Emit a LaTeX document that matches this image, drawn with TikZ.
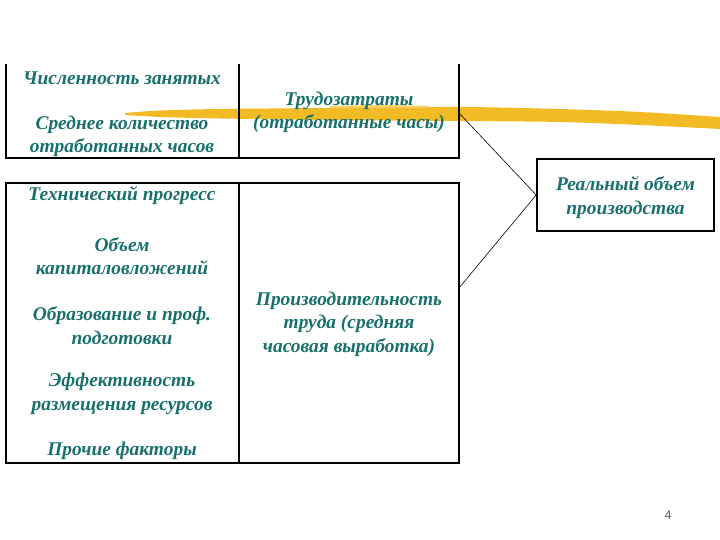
\documentclass[tikz,border=0pt]{standalone}
\usepackage{fontspec}
\setmainfont{Liberation Serif}
\setsansfont{Liberation Sans}
\definecolor{txtteal}{RGB}{24,112,108}
\definecolor{brush}{RGB}{242,186,36}
\definecolor{pagenum}{RGB}{90,90,90}
\begin{document}
\begin{tikzpicture}[x=1bp,y=-1bp,
  lbl/.style={text=txtteal,font=\fontsize{19.5}{23.5}\selectfont\bfseries\itshape,align=center,inner sep=0pt},
  frame/.style={draw=black,line width=1.6bp},
  conn/.style={draw=black,line width=0.6bp}]
\useasboundingbox (0,0) rectangle (720,540);
% brush stroke
\fill[brush] plot[smooth] coordinates {(125,113) (160,110.5) (220,109) (330,108) (460,107) (560,109) (640,112) (720,117)}
  -- plot[smooth] coordinates {(720,129) (640,125) (560,122) (460,121) (330,120) (220,118.5) (160,117) (125,115)} -- cycle;
\fill[brush!70!white] plot[smooth] coordinates {(330,106) (380,105) (430,106)} -- plot[smooth] coordinates {(430,108) (380,108) (330,108.5)} -- cycle;
% top box
\draw[frame] (6,64) -- (6,158) -- (459,158) -- (459,64);
\draw[frame] (239,64) -- (239,158);
% bottom box
\draw[frame] (6,183) rectangle (459,463);
\draw[frame] (239,183) -- (239,463);
% right box
\node[frame,minimum width=177bp,minimum height=72bp,inner sep=0pt] (real) at (625.5,195) {};
\node[lbl] (realt) at (625.5,197.5) {Реальный объем\\производства};
% connectors
\coordinate (tz) at (459,113);
\coordinate (pr) at (459,288);
\draw[conn] (tz) -- (real.west);
\draw[conn] (pr) -- (real.west);
% top left texts
\node[lbl] (n1) at (122,78) {Численность занятых};
\node[lbl] (n2) at (122,136.5) {Среднее количество\\отработанных часов};
\node[lbl] (n3) at (349,112.5) {Трудозатраты\\(отработанные часы)};
% bottom left texts
\node[lbl] (f1) at (122,196) {Технический прогресс};
\node[lbl] (f2) at (122,256) {Объем\\капиталовложений};
\node[lbl] (f3) at (122,325.5) {Образование и проф.\\подготовки};
\node[lbl] (f4) at (122,394) {Эффективность\\размещения ресурсов};
\node[lbl] (f5) at (122,451) {Прочие факторы};
\node[lbl] (pt) at (349,324) {Производительность\\труда (средняя\\часовая выработка)};
% page number
\node[text=pagenum,font=\sffamily\fontsize{12.5}{14}\selectfont,inner sep=0pt] (pg) at (668,515) {4};
\end{tikzpicture}
\end{document}
